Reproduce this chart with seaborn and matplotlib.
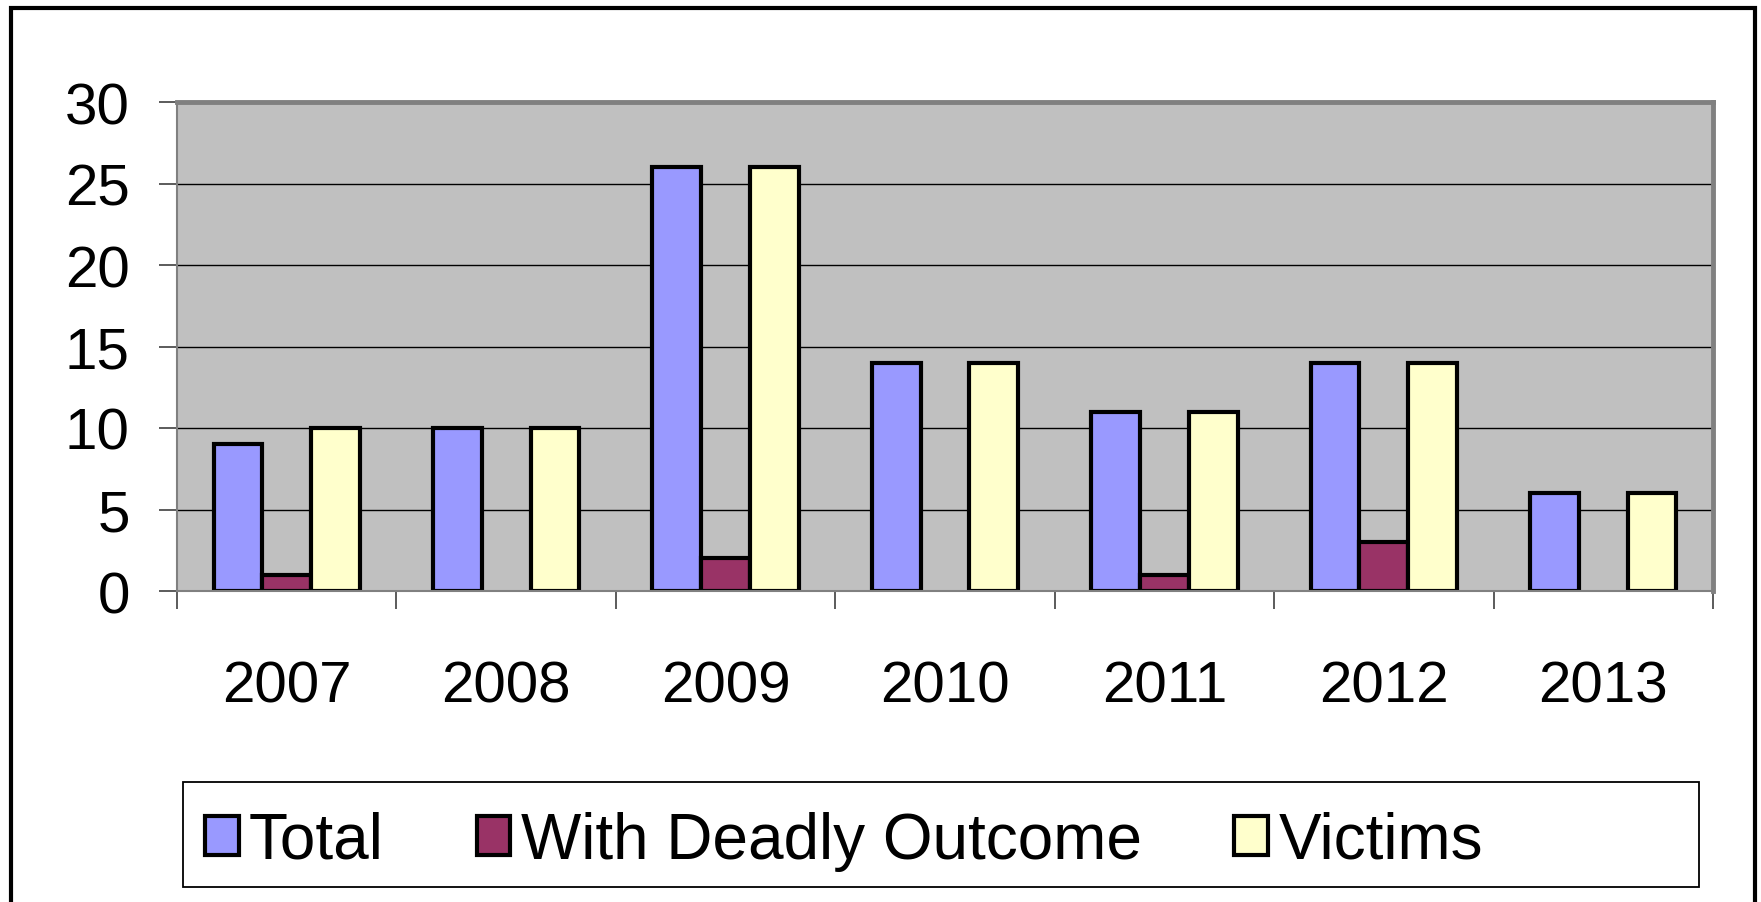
import pandas as pd
import numpy as np
import seaborn as sn
import matplotlib.pyplot as plt
from matplotlib.patches import Patch, Rectangle

# data
years = ['2007', '2008', '2009', '2010', '2011', '2012', '2013']
total = [9, 10, 26, 14, 11, 14, 6]
deadly = [1, 0, 2, 0, 1, 3, 0]
victims = [10, 10, 26, 14, 11, 14, 6]
series_names = ['Total', 'With Deadly Outcome', 'Victims']
series_colors = ['#9999FF', '#993366', '#FFFFCC']

# long form table for seaborn
df = pd.DataFrame({
    'Year': years * 3,
    'Series': [series_names[0]] * len(years) + [series_names[1]] * len(years) + [series_names[2]] * len(years),
    'Count': total + deadly + victims,
})
palette = dict(zip(series_names, series_colors))

sn.set_style('white')
plt.rcParams['font.family'] = ['Liberation Sans', 'DejaVu Sans']
plt.rcParams['text.color'] = 'black'

W, H = 1761, 903
fig = plt.figure(figsize=(W / 100, H / 100), dpi=100)
fig.patch.set_facecolor('white')

# plot area in pixel positions of the reference
left, right, top, bottom = 177, 1713, 103, 592
ax = fig.add_axes([left / W, 1 - bottom / H, (right - left) / W, (bottom - top) / H])
ax.set_facecolor('#C0C0C0')
ax.set_axisbelow(True)

sn.barplot(data=df, x='Year', y='Count', hue='Series', palette=palette,
           hue_order=series_names, order=years, width=0.667, dodge=True,
           edgecolor='black', linewidth=3, saturation=1, legend=False, ax=ax)

# zero height bars should not show an edge line
for bar in ax.patches:
    if bar.get_height() == 0:
        bar.set_linewidth(0)

ax.set_ylim(0, 30)
ax.set_xlim(-0.5, len(years) - 0.5)
ax.set_yticks(np.arange(0, 31, 5))
ax.yaxis.grid(True, color='black', linewidth=1)
ax.xaxis.grid(False)
ax.set_xlabel('')
ax.set_ylabel('')

# tick marks between categories, labels in the middle
ax.set_xticks(np.arange(-0.5, len(years), 1), minor=True)
ax.tick_params(axis='x', which='minor', length=13, width=1.2, color='#404040', direction='out', bottom=True)
ax.tick_params(axis='x', which='major', length=0, pad=49, labelsize=42, labelcolor='black')
ax.tick_params(axis='y', length=13, width=1.2, color='#404040', direction='out', left=True, pad=21,
               labelsize=42, labelcolor='black')

for side in ['top', 'right']:
    ax.spines[side].set_color('#808080')
    ax.spines[side].set_linewidth(3.5)
for side in ['left', 'bottom']:
    ax.spines[side].set_color('#808080')
    ax.spines[side].set_linewidth(1.5)

# legend with its own box
handles = [Patch(facecolor=c, edgecolor='black', linewidth=3) for c in series_colors]
fig.legend(handles, series_names, loc='center left', bbox_to_anchor=(205 / W, 1 - 842 / H),
           ncol=3, frameon=False, fontsize=46, borderpad=0, borderaxespad=0, handlelength=0.53,
           handleheight=0.56, handletextpad=0.16, columnspacing=1.45, labelcolor='black')
fig.add_artist(Rectangle((183 / W, 1 - 888 / H), (1699 - 183) / W, (888 - 783) / H,
                         fill=False, edgecolor='black', linewidth=1.3, transform=fig.transFigure))

# outer frame, open at the bottom edge of the image
fig.add_artist(Rectangle((10.5 / W, -0.05), (1754.5 - 10.5) / W, 1.05 - 9 / H,
                         fill=False, edgecolor='black', linewidth=3, transform=fig.transFigure))

plt.savefig('out.png', dpi=100)
plt.close()
